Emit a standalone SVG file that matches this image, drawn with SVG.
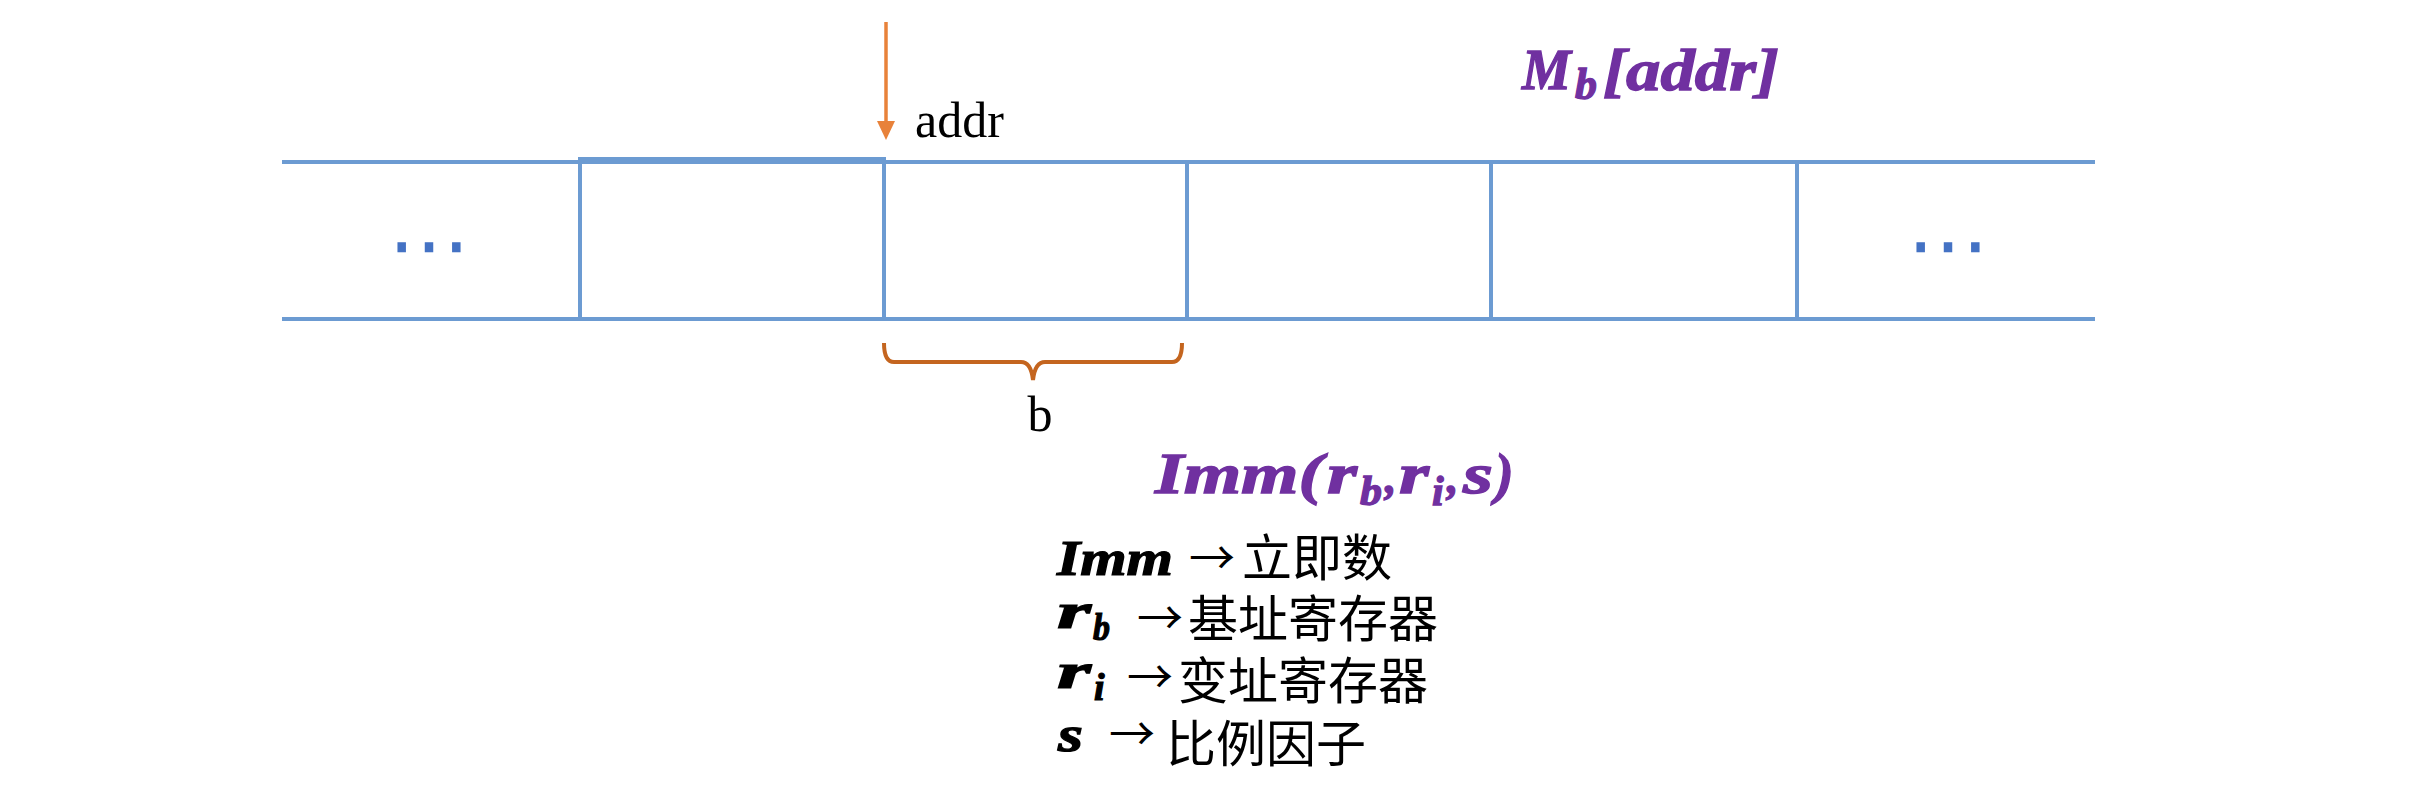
<svg xmlns="http://www.w3.org/2000/svg" width="2418" height="792" viewBox="0 0 2418 792">
<style>
.cell{fill:none;stroke:#6c9bd2;stroke-width:4}
.dots{font-family:"DejaVu Sans",sans-serif;font-size:82px;fill:#4472c4}
.lbl{font-family:"Liberation Serif",serif;font-size:50px;fill:#000}
.pm{font-family:"Liberation Serif",serif;font-weight:bold;font-style:italic;fill:#7030a0;stroke:#7030a0;stroke-width:1.3}
.bm{font-family:"Liberation Serif",serif;font-weight:bold;font-style:italic;fill:#000;stroke:#000;stroke-width:1.2}
.cjk{font-family:"Liberation Serif","Noto Sans CJK SC",sans-serif;font-size:50px;fill:#000}
.arr{font-family:"Noto Sans CJK SC",sans-serif;font-size:46px;fill:#000}
</style>
<rect width="2418" height="792" fill="#fff"/>
<g id="memory">
  <g id="rails">
    <line class="cell" x1="282" y1="162" x2="2095" y2="162"/>
    <line class="cell" x1="282" y1="319" x2="2095" y2="319"/>
  </g>
  <g id="cell-left-more"><text class="dots" x="429" y="273" text-anchor="middle">⋯</text></g>
  <g id="cell-1"><rect class="cell" x="580" y="159" width="304" height="160"/></g>
  <g id="cell-2"><line class="cell" x1="884" y1="162" x2="884" y2="319"/></g>
  <g id="cell-3"><line class="cell" x1="1187" y1="162" x2="1187" y2="319"/></g>
  <g id="cell-4"><line class="cell" x1="1491" y1="162" x2="1491" y2="319"/></g>
  <g id="cell-5"><line class="cell" x1="1797" y1="162" x2="1797" y2="319"/></g>
  <g id="cell-right-more"><text class="dots" x="1948" y="273" text-anchor="middle">⋯</text></g>
</g>
<g id="connectors">
  <line x1="886" y1="22" x2="886" y2="124" stroke="#e8823a" stroke-width="3.5"/>
  <polygon points="877,121 895,121 886,140" fill="#e8823a"/>
  <path d="M884,343 Q884,362 894,362 H1021 Q1031,362 1033,380 Q1035,362 1045,362 H1172 Q1182,362 1182,343" fill="none" stroke="#c4651f" stroke-width="4"/>
</g>
<g id="label-addr"><text class="lbl" x="915" y="137">addr</text></g>
<g id="label-b"><text class="lbl" x="1040" y="431" text-anchor="middle">b</text></g>
<g id="label-mem">
  <text class="pm" font-size="58" x="1522" y="89" textLength="49" lengthAdjust="spacingAndGlyphs">M</text>
  <text class="pm" font-size="44" x="1575" y="99" textLength="22" lengthAdjust="spacingAndGlyphs">b</text>
  <text class="pm" font-size="60" x="1603" y="90" textLength="176" lengthAdjust="spacingAndGlyphs">[addr]</text>
</g>
<g id="label-imm">
  <text class="pm" font-size="56" x="1155" y="493" textLength="168" lengthAdjust="spacingAndGlyphs">Imm(</text>
  <text class="pm" font-size="56" x="1327" y="493" textLength="30" lengthAdjust="spacingAndGlyphs">r</text>
  <text class="pm" font-size="42" x="1360" y="505" textLength="22" lengthAdjust="spacingAndGlyphs">b</text>
  <text class="pm" font-size="46" x="1385" y="493">,</text>
  <text class="pm" font-size="56" x="1399" y="493" textLength="30" lengthAdjust="spacingAndGlyphs">r</text>
  <text class="pm" font-size="42" x="1432" y="505">i</text>
  <text class="pm" font-size="46" x="1447" y="493">,</text>
  <text class="pm" font-size="56" x="1463" y="493" textLength="30" lengthAdjust="spacingAndGlyphs">s</text>
  <text class="pm" font-size="56" x="1495" y="493">)</text>
</g>
<g id="legend">
  <g id="legend-imm">
    <text class="bm" font-size="50" x="1057" y="575" textLength="116" lengthAdjust="spacingAndGlyphs">Imm</text>
    <text class="arr" x="1189" y="574">→</text>
    <text class="cjk" x="1242" y="576">立即数</text>
  </g>
  <g id="legend-rb">
    <text class="bm" font-size="50" x="1057" y="628" textLength="34" lengthAdjust="spacingAndGlyphs">r</text>
    <text class="bm" font-size="38" x="1093" y="640" textLength="17" lengthAdjust="spacingAndGlyphs">b</text>
    <text class="arr" x="1137" y="634">→</text>
    <text class="cjk" x="1188" y="637">基址寄存器</text>
  </g>
  <g id="legend-ri">
    <text class="bm" font-size="50" x="1057" y="688" textLength="34" lengthAdjust="spacingAndGlyphs">r</text>
    <text class="bm" font-size="38" x="1094" y="700">i</text>
    <text class="arr" x="1127" y="693">→</text>
    <text class="cjk" x="1178" y="699">变址寄存器</text>
  </g>
  <g id="legend-s">
    <text class="bm" font-size="50" x="1058" y="751" textLength="25" lengthAdjust="spacingAndGlyphs">s</text>
    <text class="arr" x="1109" y="750">→</text>
    <text class="cjk" x="1166" y="762">比例因子</text>
  </g>
</g>
</svg>
